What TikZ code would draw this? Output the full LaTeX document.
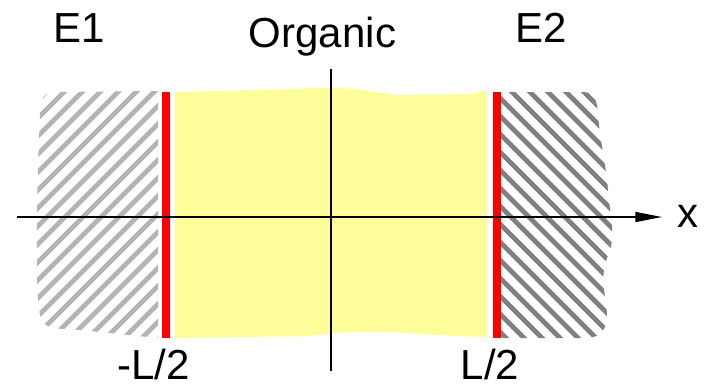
\documentclass[tikz,border=0pt]{standalone}
\usepackage{fontspec}
\setmainfont{Liberation Sans}
\usetikzlibrary{arrows.meta}
\definecolor{organic}{RGB}{253,253,153}
\definecolor{hatchlight}{RGB}{180,180,180}
\definecolor{hatchdark}{RGB}{128,128,128}
\begin{document}
\begin{tikzpicture}[x=0.75pt,y=-0.75pt,
  lbl/.style={font=\fontsize{31.5pt}{36pt}\selectfont, inner sep=0pt, anchor=base},
  stripe/.style={line width=3.6pt},
  electrode/.style={draw=none, fill=red},
  axis/.style={draw=black, line width=1.1pt}]
\useasboundingbox (0,0) rectangle (705,386);

% organic layer between the electrodes
\fill[organic] (175,92) -- (260,90) .. controls (300,89) and (320,87) .. (335,88)
  .. controls (360,88) and (380,94) .. (400,95) -- (470,94)
  .. controls (478,93) and (480,91) .. (487,91) -- (487,337)
  .. controls (450,336) and (420,334) .. (390,332)
  .. controls (360,331) and (340,332) .. (310,336) -- (175,338) -- cycle;

% left electrode E1, light hatching
\begin{scope}
  \clip (158,91) -- (55,92) .. controls (42,93) and (40,100) .. (40,115)
    .. controls (38,160) and (36,220) .. (37,260)
    .. controls (37,300) and (38,318) .. (45,324)
    .. controls (52,330) and (60,328) .. (80,330) -- (158,338) -- cycle;
  \foreach \c in {120,138,...,520}
    \draw[stripe, hatchlight] (\c-60,60) -- (\c-360,360);
\end{scope}

% right electrode E2, dark hatching
\begin{scope}
  \clip (501,92) -- (582,92) .. controls (595,92) and (597,100) .. (598,115)
    .. controls (600,140) and (606,165) .. (608,190)
    .. controls (610,215) and (615,235) .. (610,250)
    .. controls (604,265) and (602,275) .. (604,290)
    .. controls (607,310) and (610,325) .. (600,334)
    .. controls (595,338) and (585,338) .. (575,338) -- (501,338) -- cycle;
  \foreach \c in {150,168,...,540}
    \draw[stripe, hatchdark] (\c+60,60) -- (\c+360,360);
\end{scope}

% interface layers
\fill[electrode] (162,92) rectangle (170,338);
\fill[electrode] (493,92) rectangle (500.5,338);

% coordinate axes
\coordinate (xstart) at (17,217);
\coordinate (xend) at (662,217);
\coordinate (ytop) at (331,69);
\coordinate (ybot) at (331,371);
\draw[axis] (ytop) -- (ybot);
\draw[axis, -{Triangle[length=20pt,width=7.5pt]}] (xstart) -- (xend);

% labels
\node[lbl] (e1) at (79.5,42) {E1};
\node[lbl] (org) at (322.5,47) {Organic};
\node[lbl] (e2) at (541,42) {E2};
\node[lbl] (xl) at (688,227) {x};
\node[lbl] (lm) at (153.5,379) {-L/2};
\node[lbl] (lp) at (490,379) {L/2};
\end{tikzpicture}
\end{document}
